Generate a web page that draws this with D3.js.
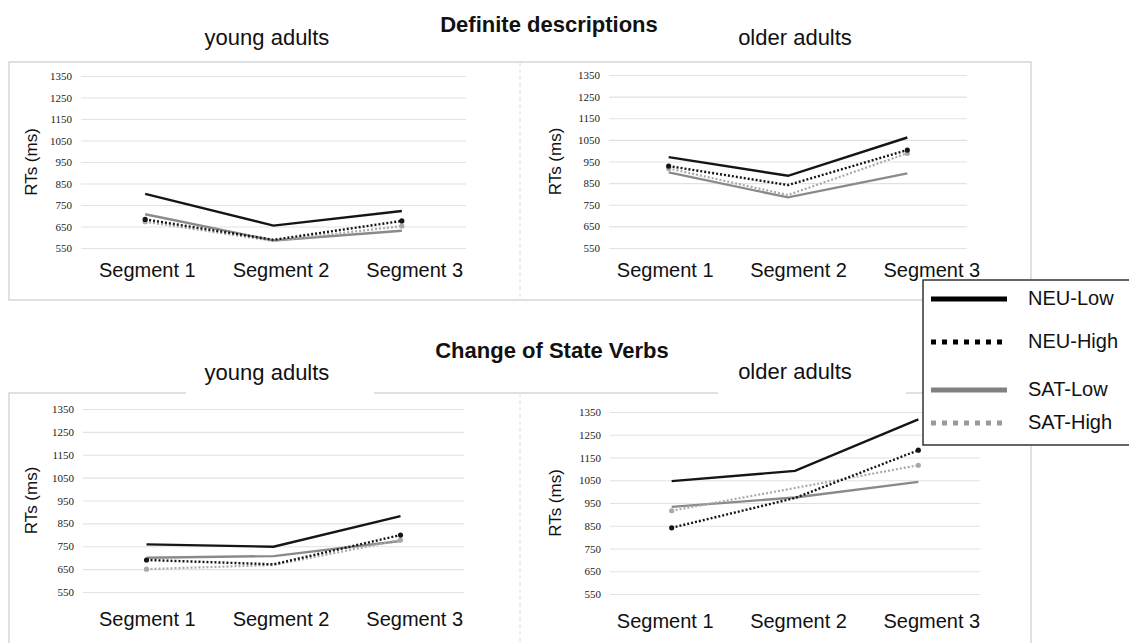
<!DOCTYPE html>
<meta charset="utf-8">
<title>RTs by segment</title>
<style>
body { margin: 0; background: #fff; }
svg { display: block; }
</style>
<svg width="1129" height="643"></svg>
<script src="https://cdn.jsdelivr.net/npm/d3@7/dist/d3.min.js"></script>
<script>

// categories and series
var segments = ["Segment 1", "Segment 2", "Segment 3"];
var conditions = ["NEU-Low", "NEU-High", "SAT-Low", "SAT-High"];
var yTicks = [550, 650, 750, 850, 950, 1050, 1150, 1250, 1350];

// RTs (ms) per condition (rows in the order of conditions), per segment
var definiteYoung = [[802, 654, 722], [683, 588, 676], [707, 585, 630], [672, 583, 652]];
var definiteOlder = [[970, 884, 1061], [929, 841, 1003], [900, 784, 895], [918, 795, 988]];
var changeYoung   = [[758, 748, 882], [690, 671, 799], [700, 707, 773], [650, 668, 777]];
var changeOlder   = [[1046, 1091, 1318], [841, 972, 1182], [933, 974, 1043], [916, 1016, 1116]];

var sans = "'Liberation Sans', Arial, sans-serif";
var serif = "'Liberation Serif', 'Times New Roman', serif";

//how each condition is drawn in the panels and in the legend
var styles = {
  "NEU-Low":  { color: "#151515", width: 2.4, dash: null,  legendDash: null },
  "NEU-High": { color: "#151515", width: 2.4, dash: "2,2", legendDash: "5,6" },
  "SAT-Low":  { color: "#8a8a8a", width: 2.4, dash: null,  legendDash: null },
  "SAT-High": { color: "#a9a9a9", width: 2.2, dash: "2,2", legendDash: "5,6" }
};
var legendColor = { "NEU-Low": "#000", "NEU-High": "#000", "SAT-Low": "#808080", "SAT-High": "#9a9a9a" };

var svg = d3.select("svg");

//outer boxes and the dashed divider
var boxes = [{ y: 62, h: 238 }, { y: 393, h: 270 }];
boxes.forEach(function(b) {
  svg.append("rect")
    .attr("x", 9).attr("y", b.y)
    .attr("width", 1022).attr("height", b.h)
    .attr("fill", "none")
    .attr("stroke", "#d6d6d6")
    .attr("stroke-width", 1.5);
  svg.append("line")
    .attr("x1", 520).attr("x2", 520)
    .attr("y1", b.y).attr("y2", b.y + b.h)
    .attr("stroke", "#dcdcdc")
    .attr("stroke-dasharray", "4,3");
});

//panel layout: grid area, segment label span, title and data
var panels = [
  { data: definiteYoung, x0: 81,  x1: 466, lx0: 80,  lx1: 481, yTop: 76,  yBot: 248, labelX: 31,  title: "young adults", tx: 267, ty: 45,  gapX: null },
  { data: definiteOlder, x0: 609, x1: 967, lx0: 598, lx1: 998, yTop: 75,  yBot: 248, labelX: 555, title: "older adults", tx: 795, ty: 45,  gapX: null },
  { data: changeYoung,   x0: 83,  x1: 464, lx0: 80,  lx1: 481, yTop: 409, yBot: 592, labelX: 31,  title: "young adults", tx: 267, ty: 380, gapX: 186 },
  { data: changeOlder,   x0: 610, x1: 980, lx0: 598, lx1: 998, yTop: 412, yBot: 594, labelX: 555, title: "older adults", tx: 795, ty: 379, gapX: 718 }
];

panels.forEach(function(p) {
  var g = svg.append("g");

  var x = d3.scalePoint()
    .domain(segments)
    .range([p.x0, p.x1])
    .padding(0.5);

  //the segment labels sit a little wider apart than the points
  var lx = d3.scalePoint()
    .domain(segments)
    .range([p.lx0, p.lx1])
    .padding(0.5);

  var y = d3.scaleLinear()
    .domain([550, 1350])
    .range([p.yBot, p.yTop]);

  //gridlines + serif tick labels
  var ya = g.append("g")
    .attr("transform", "translate(" + p.x0 + ",0)")
    .call(d3.axisLeft(y).tickValues(yTicks).tickSize(-(p.x1 - p.x0)).tickPadding(9).tickFormat(d3.format("d")));
  ya.select(".domain").remove();
  ya.selectAll(".tick line").attr("stroke", "#e2e2e2").attr("stroke-width", 1.2);
  ya.selectAll(".tick text")
    .attr("fill", "#222")
    .style("font-family", serif)
    .style("font-size", "11px");

  //segment labels
  var xa = g.append("g")
    .attr("transform", "translate(0," + p.yBot + ")")
    .call(d3.axisBottom(lx).tickSize(0).tickPadding(p.gapX ? 20 : 15));
  xa.select(".domain").remove();
  xa.selectAll(".tick text")
    .attr("fill", "#111")
    .style("font-family", sans)
    .style("font-size", "20px");

  g.append("text")
    .attr("transform", "translate(" + (p.labelX + 6) + "," + ((p.yTop + p.yBot) / 2) + ") rotate(-90)")
    .attr("text-anchor", "middle")
    .style("font-family", sans)
    .style("font-size", "17px")
    .attr("fill", "#111")
    .text("RTs (ms)");

  //lines, grey ones first so black sits on top
  var order = [2, 3, 1, 0];
  var line = d3.line()
    .x(function(d, i) { return x(segments[i]); })
    .y(function(d) { return y(d); });

  order.forEach(function(k) {
    var st = styles[conditions[k]];
    g.append("path")
      .datum(p.data[k])
      .attr("d", line)
      .attr("fill", "none")
      .attr("stroke", st.color)
      .attr("stroke-width", st.width)
      .attr("stroke-dasharray", st.dash);
    //small markers on the ends of the dotted series
    if (st.dash) {
      g.selectAll(null)
        .data([0, 2])
        .enter().append("circle")
        .attr("cx", function(i) { return x(segments[i]); })
        .attr("cy", function(i) { return y(p.data[k][i]); })
        .attr("r", 2.6)
        .attr("fill", st.color);
    }
  });

  //title; the lower box has its border cut behind the title
  if (p.gapX) {
    svg.append("rect")
      .attr("x", p.gapX).attr("y", 386)
      .attr("width", 188).attr("height", 12)
      .attr("fill", "#fff");
  }
  svg.append("text")
    .attr("x", p.tx).attr("y", p.ty)
    .attr("text-anchor", "middle")
    .style("font-family", sans)
    .style("font-size", "22px")
    .attr("fill", "#111")
    .text(p.title);
});

//main titles
[["Definite descriptions", 549, 32], ["Change of State Verbs", 552, 358]].forEach(function(t) {
  svg.append("text")
    .attr("x", t[1]).attr("y", t[2])
    .attr("text-anchor", "middle")
    .style("font-family", sans)
    .style("font-size", "22px")
    .style("font-weight", "bold")
    .attr("fill", "#111")
    .text(t[0]);
});

//legend box, runs past the right edge
var legend = svg.append("g");
legend.append("rect")
  .attr("x", 923).attr("y", 280)
  .attr("width", 230).attr("height", 165)
  .attr("fill", "#fff")
  .attr("stroke", "#333")
  .attr("stroke-width", 1.5);

var rowY = [299, 342, 390, 423];
conditions.forEach(function(c, i) {
  legend.append("line")
    .attr("x1", 931).attr("x2", 1007)
    .attr("y1", rowY[i]).attr("y2", rowY[i])
    .attr("stroke", legendColor[c])
    .attr("stroke-width", 5)
    .attr("stroke-dasharray", styles[c].legendDash);
  legend.append("text")
    .attr("x", 1028).attr("y", rowY[i] + 6)
    .style("font-family", sans)
    .style("font-size", "20px")
    .attr("fill", "#111")
    .text(c);
});

</script>
